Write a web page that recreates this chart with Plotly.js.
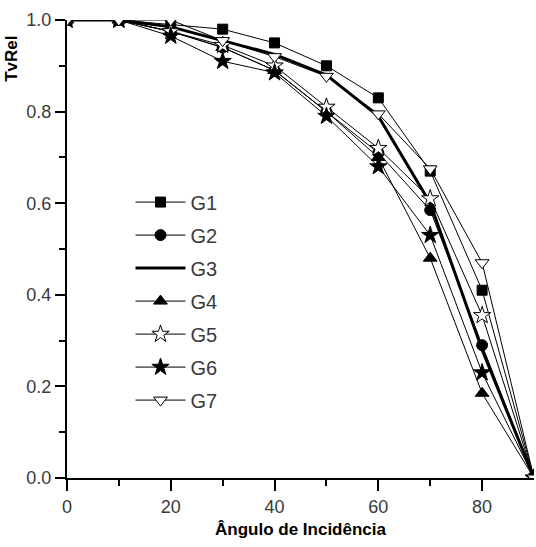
<!DOCTYPE html>
<html>
<head>
<meta charset="utf-8">
<script src="https://cdn.plot.ly/plotly-3.0.1.min.js"></script>
<style>html,body{margin:0;padding:0;background:#fff;}#chart{width:536px;height:547px;}</style>
</head>
<body>
<div id="chart"></div>
<script>
var angles = [0, 10, 20, 30, 40, 50, 60, 70, 80, 90];
var G1 = [1, 1, 0.99, 0.98, 0.95, 0.90, 0.83, 0.67, 0.41, 0];
var G2 = [1, 1, 0.975, 0.94, 0.89, 0.80, 0.71, 0.585, 0.29, 0];
var G3 = [1, 1, 0.985, 0.955, 0.925, 0.88, 0.79, 0.60, 0.28, 0];
var G4 = [1, 1, 0.975, 0.94, 0.89, 0.80, 0.70, 0.48, 0.185, 0];
var G5 = [1, 1, 0.975, 0.945, 0.90, 0.81, 0.72, 0.61, 0.355, 0];
var G6 = [1, 1, 0.965, 0.91, 0.885, 0.79, 0.68, 0.53, 0.23, 0];
var G7 = [1, 1, 1.0, 0.955, 0.92, 0.877, 0.795, 0.675, 0.47, 0];
var seriesNames = ['G1', 'G2', 'G3', 'G4', 'G5', 'G6', 'G7'];
var seriesData = [G1, G2, G3, G4, G5, G6, G7];
var styles = [
  {symbol: 'square', size: 10, fill: '#000', lw: 1, mode: 'lines+markers'},
  {symbol: 'circle', size: 11, fill: '#000', lw: 1, mode: 'lines+markers'},
  {symbol: 'circle', size: 1, fill: '#000', lw: 3, mode: 'lines'},
  {symbol: 'triangle-up', size: 12, fill: '#000', lw: 1, mode: 'lines+markers'},
  {symbol: 'star', size: 13, fill: '#fff', lw: 1, mode: 'lines+markers'},
  {symbol: 'star', size: 13, fill: '#000', lw: 1, mode: 'lines+markers'},
  {symbol: 'triangle-down', size: 12, fill: '#fff', lw: 1, mode: 'lines+markers'}
];
var traces = seriesNames.map(function (n, i) {
  var s = styles[i];
  return {
    x: angles, y: seriesData[i], name: n, legendgroup: n, type: 'scatter', mode: s.mode,
    line: {color: '#000', width: s.lw},
    marker: {symbol: s.symbol, size: s.size, color: s.fill, line: {color: '#000', width: 1}}
  };
});
var tickFont = {family: 'Liberation Sans, Arial, sans-serif', size: 18, color: '#3a3a3a'};
var layout = {
  width: 536, height: 547,
  margin: {l: 67, r: 2, t: 20, b: 69},
  paper_bgcolor: '#fff', plot_bgcolor: '#fff',
  showlegend: true,
  legend: {x: 0.136, y: 0.645, xanchor: 'left', yanchor: 'top', bgcolor: 'rgba(0,0,0,0)',
           font: {family: 'Liberation Sans, Arial, sans-serif', size: 20, color: '#3a3a3a'},
           tracegroupgap: 4, itemwidth: 50},
  xaxis: {
    range: [0, 90], showgrid: false, zeroline: false, showline: true, linecolor: '#000', linewidth: 2,
    ticks: 'outside', tickvals: [0, 20, 40, 60, 80], ticklen: 11, tickwidth: 2, tickcolor: '#000',
    minor: {tickvals: [10, 30, 50, 70], ticklen: 6, tickwidth: 2, tickcolor: '#000', ticks: 'outside'},
    tickfont: tickFont,
    title: {text: 'Ângulo de Incidência', font: {family: 'Liberation Sans, Arial, sans-serif', size: 17, color: '#000', weight: 'bold'}, standoff: 8}
  },
  yaxis: {
    range: [0, 1.0], showgrid: false, zeroline: false, showline: true, linecolor: '#000', linewidth: 2,
    ticks: 'outside', tickvals: [0, 0.2, 0.4, 0.6, 0.8, 1.0], ticktext: ['0.0', '0.2', '0.4', '0.6', '0.8', '1.0'],
    ticklen: 10, tickwidth: 2, tickcolor: '#000',
    minor: {tickvals: [0.1, 0.3, 0.5, 0.7, 0.9], ticklen: 6, tickwidth: 2, tickcolor: '#000', ticks: 'outside'},
    tickfont: tickFont
  },
  annotations: [{
    text: '<b>TvRel</b>', xref: 'paper', yref: 'paper', x: -0.118, y: 0.915, textangle: -90,
    showarrow: false, xanchor: 'center', yanchor: 'middle',
    font: {family: 'Liberation Sans, Arial, sans-serif', size: 17, color: '#000'}
  }]
};
Plotly.newPlot('chart', traces, layout, {staticPlot: true, displayModeBar: false});
</script>
</body>
</html>
